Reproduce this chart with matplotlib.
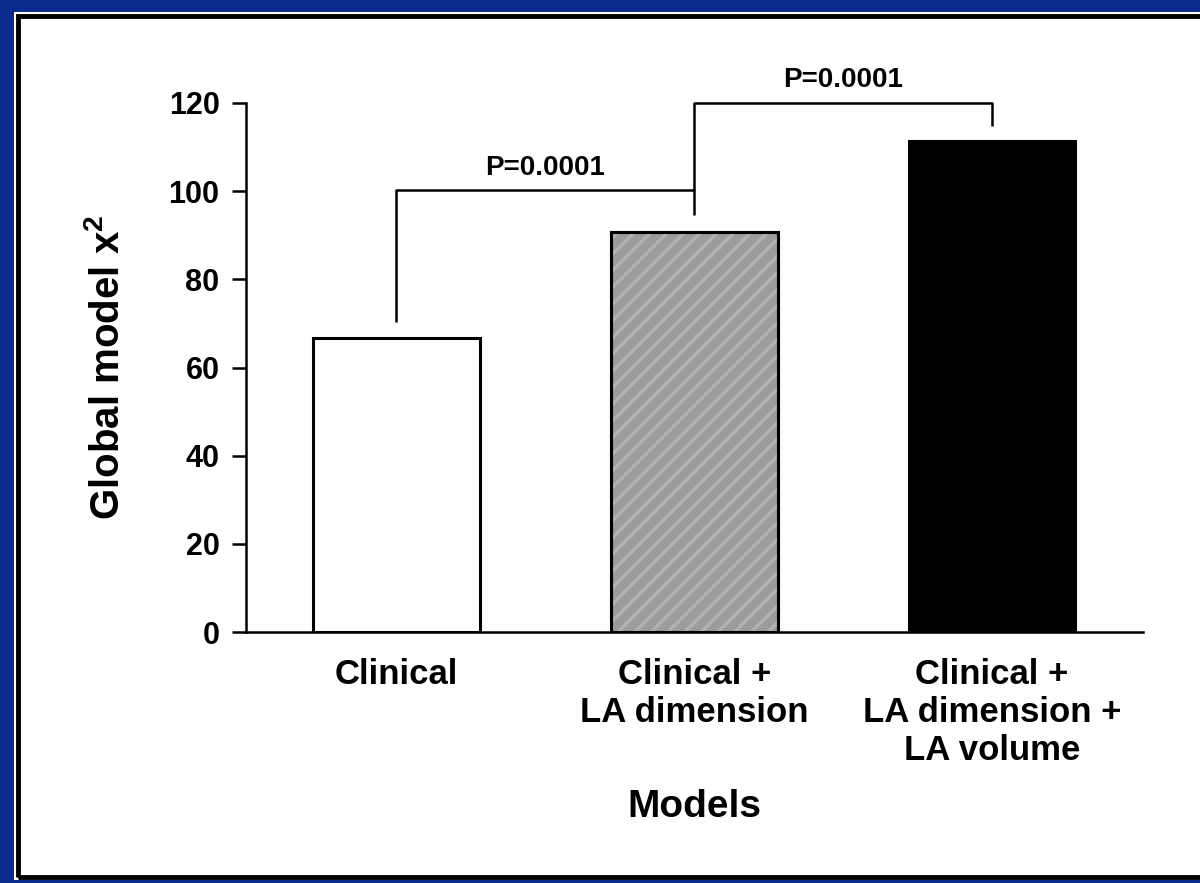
import matplotlib
matplotlib.use('Agg')
import matplotlib.pyplot as plt
from matplotlib.patches import Rectangle

plt.rcParams['font.family'] = ['Liberation Sans', 'DejaVu Sans']
plt.rcParams['font.weight'] = 'bold'
plt.rcParams['mathtext.fontset'] = 'custom'
plt.rcParams['mathtext.rm'] = 'Liberation Sans:bold'
plt.rcParams['mathtext.it'] = 'Liberation Sans:bold'
plt.rcParams['mathtext.bf'] = 'Liberation Sans:bold'
plt.rcParams['hatch.linewidth'] = 2.5

# 模型及其总体卡方值
models = ['Clinical', 'Clinical +\nLA dimension', 'Clinical +\nLA dimension +\nLA volume']
chi2 = [66.7, 90.7, 111.3]
bar_colors = ['white', '#9c9c9c', 'black']
yticks = [0, 20, 40, 60, 80, 100, 120]

# 显著性括号: (起点, 终点, 左端高度, 横线高度, 右端高度, 文字)
brackets = [
    (0, 1, 70.3, 100.2, 94.5, 'P=0.0001'),
    (1, 2, 100.2, 120.0, 114.8, 'P=0.0001'),
]

fig = plt.figure(figsize=(12, 8.83), dpi=100)
fig.patch.set_facecolor('#0b2c8e')

# 白色面板和黑框（放在坐标轴下面）
fig.patches.append(Rectangle((14 / 1200, 3 / 883), 1.2, 868 / 883,
                             transform=fig.transFigure, facecolor='white',
                             edgecolor='none', zorder=-2))
fig.patches.append(Rectangle((18 / 1200, 6 / 883), 1.2, 861 / 883,
                             transform=fig.transFigure, facecolor='none',
                             edgecolor='black', linewidth=3.5, zorder=-1))

ax = fig.add_axes([246 / 1200, 1 - 632 / 883, (1143 - 246) / 1200, (632 - 103) / 883])
ax.set_facecolor('none')

x = range(len(models))
width = 0.56
bars = ax.bar(x, chi2, width, color=bar_colors, edgecolor='black', linewidth=2.2, zorder=2)
# 中间柱子加斜纹
ax.bar([1], [chi2[1]], width, color='none', edgecolor='#b2b2b2', hatch='//', linewidth=0, zorder=2.5)
ax.bar([1], [chi2[1]], width, color='none', edgecolor='black', linewidth=2.2, zorder=3)

for x0, x1, y0, ytop, y1, label in brackets:
    ax.plot([x0, x0, x1, x1], [y0, ytop, ytop, y1], color='black', linewidth=1.8,
            clip_on=False, zorder=4, solid_capstyle='butt')
    ax.text((x0 + x1) / 2, ytop + 2.2, label, ha='center', va='bottom',
            fontsize=20, fontweight='bold', clip_on=False)

ax.set_xlim(-0.505, 2.507)
ax.set_ylim(0, 120)
ax.set_yticks(yticks)
ax.set_xticks(list(x))
ax.set_xticklabels(models, fontsize=25, fontweight='bold', linespacing=1.18)
ax.tick_params(axis='x', length=0, pad=19)
ax.tick_params(axis='y', length=10, width=1.8, labelsize=22, pad=9)
for lab in ax.get_yticklabels():
    lab.set_fontweight('bold')

ax.spines['top'].set_visible(False)
ax.spines['right'].set_visible(False)
ax.spines['left'].set_linewidth(1.8)
ax.spines['bottom'].set_linewidth(1.8)

ax.set_ylabel('Global model x$^{2}$', fontsize=29, fontweight='bold', labelpad=30)
ax.set_xlabel('Models', fontsize=28, fontweight='bold', labelpad=16)

fig.savefig('out.png', dpi=100, facecolor=fig.get_facecolor())
